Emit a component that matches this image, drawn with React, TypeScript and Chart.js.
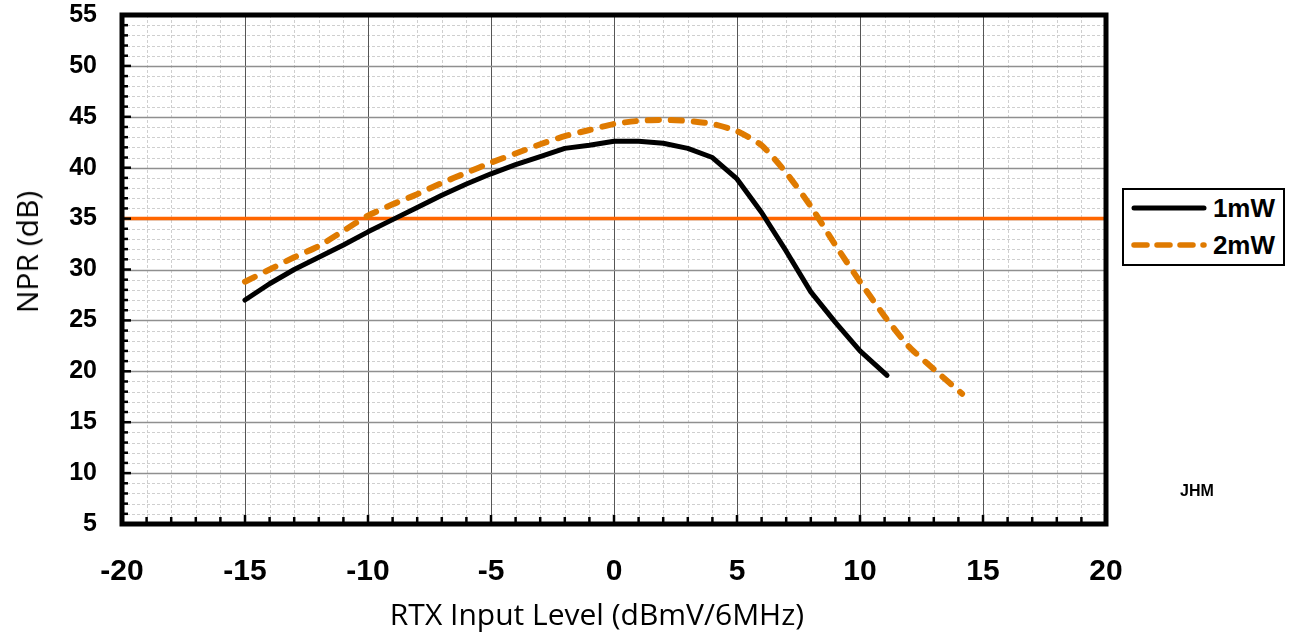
import React, { useEffect, useRef } from "react";
import { Chart, registerables } from "chart.js";

Chart.register(...registerables);

// ---- data ----
const x1mW = [-15, -14, -13, -12, -11, -10, -9, -8, -7, -6, -5, -4, -3, -2, -1, 0, 1, 2, 3, 4, 5, 6, 7, 8, 9, 10, 11.1];
const y1mW = [27.0, 28.6, 30.0, 31.2, 32.4, 33.7, 34.9, 36.1, 37.3, 38.4, 39.4, 40.3, 41.1, 41.9, 42.2, 42.6, 42.6, 42.4, 41.9, 41.0, 38.9, 35.6, 31.8, 27.8, 24.8, 22.0, 19.6];
const x2mW = [-15, -14, -13, -12, -11, -10, -9, -8, -7, -6, -5, -4, -3, -2, -1, 0, 1, 2, 3, 4, 5, 6, 7, 8, 9, 10, 11, 12, 13, 14.15];
const y2mW = [28.8, 30.0, 31.2, 32.3, 33.8, 35.3, 36.4, 37.4, 38.5, 39.5, 40.5, 41.4, 42.3, 43.1, 43.7, 44.3, 44.6, 44.7, 44.6, 44.3, 43.6, 42.2, 39.5, 36.2, 32.4, 28.8, 25.4, 22.4, 20.2, 17.8];
const refLevel = 35;
const xRange = [-20, 20];
const yRange = [5, 55];
const seriesNames = ["1mW", "2mW"];

const FONT = "'Liberation Sans', Arial, sans-serif";

const framePlugin = {
  id: "frame",
  beforeDatasetsDraw(chart: any) {
    const { ctx, chartArea: a, scales } = chart;
    const xs = scales.x, ys = scales.y;
    ctx.save();
    // minor grid
    ctx.strokeStyle = "#cfcfcf";
    ctx.lineWidth = 1;
    ctx.setLineDash([3, 2]);
    for (let v = xRange[0] + 1; v < xRange[1]; v++) {
      if (v % 5 === 0) continue;
      const p = Math.round(xs.getPixelForValue(v)) + 0.5;
      ctx.beginPath(); ctx.moveTo(p, a.top); ctx.lineTo(p, a.bottom); ctx.stroke();
    }
    for (let v = yRange[0] + 1; v < yRange[1]; v++) {
      if (v % 5 === 0) continue;
      const p = Math.round(ys.getPixelForValue(v)) + 0.5;
      ctx.beginPath(); ctx.moveTo(a.left, p); ctx.lineTo(a.right, p); ctx.stroke();
    }
    ctx.setLineDash([]);
    // major grid
    ctx.strokeStyle = "#555555";
    for (let v = xRange[0] + 5; v < xRange[1]; v += 5) {
      const p = Math.round(xs.getPixelForValue(v)) + 0.5;
      ctx.beginPath(); ctx.moveTo(p, a.top); ctx.lineTo(p, a.bottom); ctx.stroke();
    }
    ctx.strokeStyle = "#8f8f8f";
    ctx.lineWidth = 1.5;
    for (let v = yRange[0] + 5; v < yRange[1]; v += 5) {
      const p = Math.round(ys.getPixelForValue(v)) + 0.5;
      ctx.beginPath(); ctx.moveTo(a.left, p); ctx.lineTo(a.right, p); ctx.stroke();
    }
    ctx.restore();
  },
  afterDatasetsDraw(chart: any) {
    const { ctx, chartArea: a, scales } = chart;
    const xs = scales.x, ys = scales.y;
    ctx.save();
    ctx.strokeStyle = "#000";
    ctx.lineWidth = 2.5;
    for (let v = yRange[0] + 1; v < yRange[1]; v++) {
      const p = ys.getPixelForValue(v);
      const len = v % 5 === 0 ? 9 : 6;
      ctx.beginPath(); ctx.moveTo(a.left, p); ctx.lineTo(a.left + len, p); ctx.stroke();
    }
    for (let v = xRange[0] + 1; v < xRange[1]; v++) {
      const p = xs.getPixelForValue(v);
      const len = v % 5 === 0 ? 9 : 7;
      ctx.beginPath(); ctx.moveTo(p, a.bottom); ctx.lineTo(p, a.bottom - len); ctx.stroke();
    }
    ctx.lineWidth = 5;
    ctx.strokeRect(a.left, a.top, a.right - a.left, a.bottom - a.top);
    ctx.restore();
  },
};

export default function App() {
  const ref = useRef<HTMLCanvasElement>(null);
  useEffect(() => {
    if (!ref.current) return;
    const chart = new Chart(ref.current, {
      type: "scatter",
      data: {
        datasets: [
          {
            label: seriesNames[0],
            data: x1mW.map((x, i) => ({ x, y: y1mW[i] })),
            showLine: true,
            borderColor: "#000000",
            borderWidth: 5,
            pointRadius: 0,
            tension: 0,
            borderCapStyle: "round",
            borderJoinStyle: "round",
            order: 1,
          },
          {
            label: seriesNames[1],
            data: x2mW.map((x, i) => ({ x, y: y2mW[i] })),
            showLine: true,
            borderColor: "#df7a00",
            borderWidth: 6,
            borderDash: [11, 12],
            pointRadius: 0,
            tension: 0.2,
            borderCapStyle: "round",
            borderJoinStyle: "round",
            order: 2,
          },
          {
            label: "ref",
            data: [
              { x: xRange[0], y: refLevel },
              { x: xRange[1], y: refLevel },
            ],
            showLine: true,
            borderColor: "#ff6600",
            borderWidth: 3.5,
            pointRadius: 0,
            order: 3,
          },
        ],
      },
      options: {
        animation: false,
        responsive: false,
        devicePixelRatio: 1,
        layout: { padding: { left: 0, top: 15, right: 189, bottom: 0 } },
        plugins: { legend: { display: false }, tooltip: { enabled: false } },
        scales: {
          x: {
            type: "linear",
            min: xRange[0],
            max: xRange[1],
            ticks: {
              stepSize: 5,
              color: "#000",
              font: { family: FONT, size: 30, weight: "bold" },
              padding: 30,
              maxRotation: 0,
            },
            grid: { display: false, drawTicks: false },
            border: { display: false },
            afterFit: (s: any) => { s.height = 111; s.paddingLeft = 0; s.paddingRight = 0; },
          },
          y: {
            type: "linear",
            min: yRange[0],
            max: yRange[1],
            ticks: {
              stepSize: 5,
              color: "#000",
              font: { family: FONT, size: 25, weight: "bold" },
              padding: 25,
            },
            grid: { display: false, drawTicks: false },
            border: { display: false },
            afterFit: (s: any) => { s.width = 122; s.paddingTop = 0; s.paddingBottom = 0; },
          },
        },
      },
      plugins: [framePlugin],
    } as any);
    return () => chart.destroy();
  }, []);

  return (
    <div style={{ position: "fixed", left: 0, top: 0, width: 1295, height: 635, background: "#fff" }}>
      <canvas ref={ref} width={1295} height={635} style={{ position: "absolute", left: 0, top: 0 }} />
      <div
        style={{
          position: "absolute", left: 597, top: 614, transform: "translate(-50%, -50%)",
          fontFamily: "'Open Sans', sans-serif", fontSize: 30, whiteSpace: "nowrap", color: "#000", lineHeight: 1.2,
        }}
      >
        RTX Input Level (dBmV/6MHz)
      </div>
      <div
        style={{
          position: "absolute", left: 27, top: 252, transform: "translate(-50%, -50%) rotate(-90deg)",
          fontFamily: "'Open Sans', sans-serif", fontSize: 30, whiteSpace: "nowrap", color: "#000", lineHeight: 1.2,
        }}
      >
        NPR (dB)
      </div>
      <div
        style={{
          position: "absolute", left: 1197, top: 491, transform: "translate(-50%, -50%)",
          fontFamily: FONT, fontSize: 16, fontWeight: "bold", color: "#000",
        }}
      >
        JHM
      </div>
      <div
        style={{
          position: "absolute", left: 1122, top: 188, width: 163, height: 78, boxSizing: "border-box",
          border: "2.5px solid #000", background: "#fff", fontFamily: FONT, fontWeight: "bold", fontSize: 26,
        }}
      >
        <svg width={160} height={74} style={{ position: "absolute", left: 0, top: 0 }}>
          <line x1={10} y1={18} x2={80} y2={18} stroke="#000" strokeWidth={5} strokeLinecap="round" />
          <line x1={10} y1={55} x2={80} y2={55} stroke="#df7a00" strokeWidth={5.5} strokeLinecap="round" strokeDasharray="13 10" />
        </svg>
        <div style={{ position: "absolute", right: 8, top: 18, transform: "translateY(-50%)", lineHeight: 1 }}>{seriesNames[0]}</div>
        <div style={{ position: "absolute", right: 8, top: 55, transform: "translateY(-50%)", lineHeight: 1 }}>{seriesNames[1]}</div>
      </div>
    </div>
  );
}
